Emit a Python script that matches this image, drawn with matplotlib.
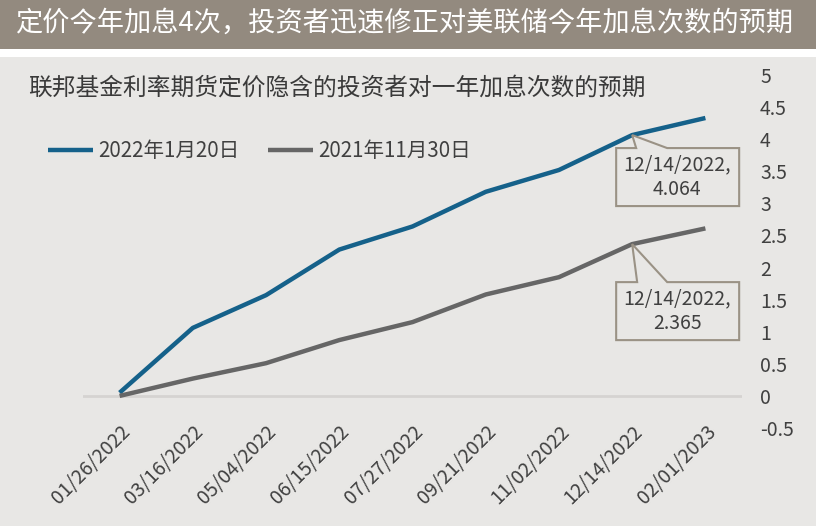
import matplotlib
matplotlib.use("Agg")
import matplotlib.pyplot as plt
import matplotlib.transforms as mtransforms
from matplotlib.patches import Rectangle, Polygon

plt.rcParams['font.family'] = ['Noto Sans CJK SC', 'DejaVu Sans']

# ---- data ----
dates = ["01/26/2022", "03/16/2022", "05/04/2022", "06/15/2022", "07/27/2022",
         "09/21/2022", "11/02/2022", "12/14/2022", "02/01/2023"]
series_jan = [0.05, 1.06, 1.57, 2.28, 2.64, 3.18, 3.52, 4.064, 4.33]
series_nov = [0.0, 0.27, 0.51, 0.87, 1.15, 1.58, 1.85, 2.365, 2.61]
label_jan = "2022年1月20日"
label_nov = "2021年11月30日"
yticks = [-0.5, 0, 0.5, 1, 1.5, 2, 2.5, 3, 3.5, 4, 4.5, 5]
ytick_labels = ["-0.5", "0", "0.5", "1", "1.5", "2", "2.5", "3", "3.5", "4", "4.5", "5"]
banner = "定价今年加息4次，投资者迅速修正对美联储今年加息次数的预期"
subtitle = "联邦基金利率期货定价隐含的投资者对一年加息次数的预期"
ann_index = 7

BLUE = "#15618a"
GRAY = "#666666"
BG = "#e8e7e5"
BANNER = "#938a7f"
EDGE = "#9a9285"
TXT = "#404040"

W, H = 816, 526
fig = plt.figure(figsize=(W / 100, H / 100), dpi=100, facecolor="white")

# backgrounds
fig.patches.append(Rectangle((0, 1 - 49 / H), 1, 49 / H, transform=fig.transFigure,
                             fc=BANNER, ec="none", zorder=-10))
fig.patches.append(Rectangle((0, 0), 1, 1 - 57 / H, transform=fig.transFigure,
                             fc=BG, ec="none", zorder=-10))
fig.text(15 / W, 1 - 23 / H, banner, color="white", fontsize=19.6, va="center", ha="left")
fig.text(28 / W, 1 - 88 / H, subtitle, color="#3a3a3a", fontsize=17.1, va="center", ha="left")

left, right, top, bottom = 83, 742, 75, 428
ax = fig.add_axes([left / W, 1 - bottom / H, (right - left) / W, (bottom - top) / H])
ax.set_facecolor("none")
for s in ax.spines.values():
    s.set_visible(False)

x = list(range(len(dates)))
ax.axhline(0, color="#d5d3d1", lw=2, zorder=1)
l1, = ax.plot(x, series_jan, color=BLUE, lw=3.2, solid_capstyle="butt", zorder=3, label=label_jan)
l2, = ax.plot(x, series_nov, color=GRAY, lw=3.2, solid_capstyle="butt", zorder=3, label=label_nov)

ax.set_xlim(-0.5, len(dates) - 0.5)
ax.set_ylim(-0.5, 5)
ax.set_xticks(x)
ax.set_xticklabels(dates, rotation=45, ha="right", rotation_mode="anchor",
                   fontsize=14, color=TXT)
ax.yaxis.tick_right()
ax.set_yticks(yticks)
ax.set_yticklabels(ytick_labels, fontsize=14, color=TXT)
ax.tick_params(axis="both", length=0)
ax.tick_params(axis="y", pad=13)
ax.tick_params(axis="x", pad=-5)
for lab in ax.get_yticklabels():
    lab.set_ha("left")

leg = ax.legend(handles=[l1, l2], loc="center left", bbox_to_anchor=(48 / W, 1 - 151 / H),
                bbox_transform=fig.transFigure, ncol=2, frameon=False, fontsize=14.8,
                handlelength=2.2, handletextpad=0.25, columnspacing=1.4,
                borderpad=0, borderaxespad=0)
for t in leg.get_texts():
    t.set_color(TXT)


def callout(xi, yi, shape, text_off):
    tr = mtransforms.Affine2D().scale(fig.dpi / 100) + \
        mtransforms.ScaledTranslation(xi, yi, ax.transData)
    poly = Polygon(shape, closed=True, transform=tr, fc=BG, ec=EDGE, lw=1.5,
                   zorder=5, clip_on=False)
    ax.add_patch(poly)
    ax.annotate(f"{dates[xi]},\n{yi}", xy=(xi, yi), xytext=text_off,
                textcoords="offset pixels", ha="center", va="center",
                fontsize=14, color=TXT, linespacing=1.25, zorder=6,
                annotation_clip=False)


shape1 = [(-16, -13), (4, -13), (0, 0), (35, -13), (107, -13), (107, -71), (-16, -71)]
shape2 = [(-16, -38), (5, -38), (0, 0), (35, -38), (107, -38), (107, -96), (-16, -96)]
callout(ann_index, series_jan[ann_index], shape1, (45, -42))
callout(ann_index, series_nov[ann_index], shape2, (45, -67))

fig.savefig("out.png", dpi=100, facecolor=fig.get_facecolor())
